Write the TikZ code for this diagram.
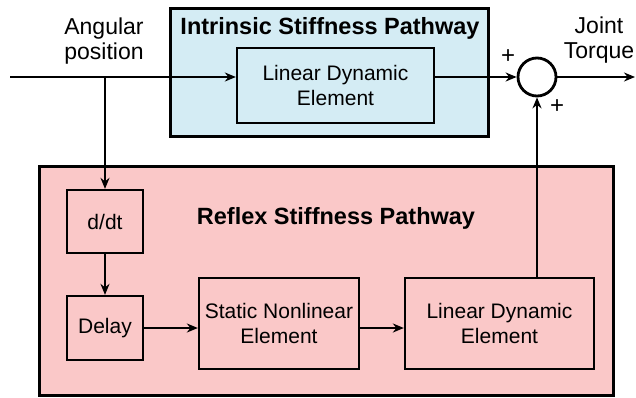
\documentclass[tikz,border=0pt]{standalone}
\usepackage{fontspec}
\setmainfont{Liberation Sans}
\usetikzlibrary{arrows.meta}
\definecolor{blueback}{RGB}{212,236,244}
\definecolor{pinkback}{RGB}{250,200,200}
\tikzset{
  panel/.style={draw=black, line width=3pt, inner sep=0pt},
  blockbox/.style={draw=black, line width=2.3pt, inner sep=0pt, align=center, font=\fontsize{21}{25}\selectfont},
  sig/.style={line width=2.2pt, -{Stealth[length=11pt,width=9pt]}},
  lbl/.style={align=center, font=\fontsize{23}{25}\selectfont, inner sep=0pt},
  plus/.style={font=\fontsize{24}{24}\selectfont, inner sep=0pt},
  ttl/.style={font=\bfseries\fontsize{23.5}{26}\selectfont, inner sep=0pt},
  sumnode/.style={draw=black, line width=2.8pt, circle, minimum size=38pt, inner sep=0pt, fill=white}
}
\begin{document}
\begin{tikzpicture}[x=1pt,y=-1pt]
\useasboundingbox (0,0) rectangle (636,397);
% panels
\node[panel, fill=blueback, minimum width=318pt, minimum height=128pt] (intr) at (329,72) {};
\node[panel, fill=pinkback, minimum width=574pt, minimum height=229pt] (refl) at (326,280.5) {};
\node[ttl] (intrt) at (330,28) {Intrinsic Stiffness Pathway};
\node[ttl] (reflt) at (336,218) {Reflex Stiffness Pathway};
% blocks
\node[blockbox, fill=blueback, minimum width=197pt, minimum height=75pt] (lde1) at (335.5,85.5) {Linear Dynamic\\Element};
\node[blockbox, fill=pinkback, minimum width=76pt, minimum height=63pt] (ddt) at (105,221.5) {d/dt};
\node[blockbox, fill=pinkback, minimum width=76pt, minimum height=64pt] (delay) at (105,328) {Delay};
\node[blockbox, fill=pinkback, minimum width=160pt, minimum height=91pt] (snl) at (279,323.5) {Static Nonlinear\\Element};
\node[blockbox, fill=pinkback, minimum width=189pt, minimum height=91pt] (lde2) at (499.5,323.5) {Linear Dynamic\\Element};
\node[sumnode] (sum) at (537,77) {};
% coordinates
\coordinate (in) at (10,77);
\coordinate (br) at (105,77);
\coordinate (out) at (635,77);
% labels
\node[lbl] (ang) at (104,41) {Angular\\position};
\node[lbl] (jt) at (599,40) {Joint\\Torque};
\node[plus] (p1) at (508,57) {+};
\node[plus] (p2) at (557,107) {+};
% connectors
\draw[sig] (in) -- (in -| lde1.west);
\draw[sig] (br) -- (ddt.north);
\draw[sig] (ddt.south) -- (delay.north);
\draw[sig] (delay.east) -- (delay.east -| snl.west);
\draw[sig] (snl.east |- delay.east) -- (lde2.west |- delay.east);
\draw[sig] (lde1.east |- sum) -- (sum.west);
\draw[sig] (lde2.north -| sum) -- (sum.south);
\draw[sig] (sum.east) -- (out);
\end{tikzpicture}
\end{document}
